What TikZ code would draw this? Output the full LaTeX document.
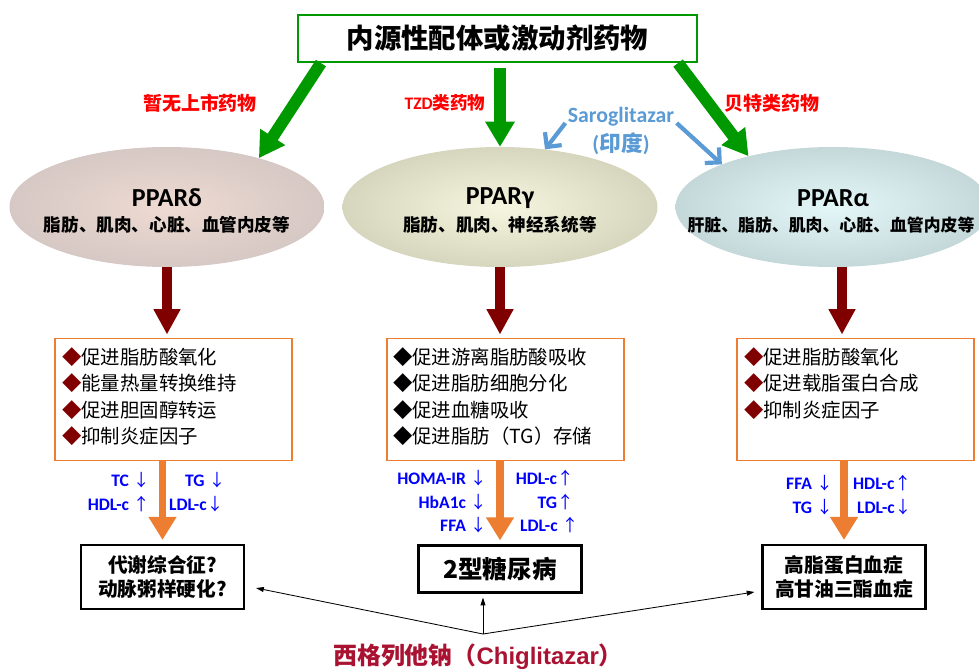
\documentclass[tikz,border=0pt]{standalone}
\usepackage{fontspec}
\setmainfont{Noto Sans CJK SC}
\newfontfamily\cjk{Noto Sans CJK SC}
\newfontfamily\lat{Carlito}
\newfontfamily\arl{Liberation Sans}
\usetikzlibrary{arrows.meta,shapes.geometric}
\definecolor{agreen}{RGB}{0,153,0}
\definecolor{adred}{RGB}{128,0,0}
\definecolor{aorange}{RGB}{237,125,49}
\definecolor{asblue}{RGB}{91,155,213}
\definecolor{acrimson}{RGB}{170,18,50}
\newcommand{\dia}{\textcolor{adred}{◆}}
\newcommand{\da}{{\normalfont\fontsize{24}{28}\selectfont ↓}}
\newcommand{\ua}{{\normalfont\fontsize{24}{28}\selectfont ↑}}
\tikzstyle{topbox}=[draw=agreen, line width=3pt, fill=white, minimum width=199.5mm, minimum height=23.5mm, font=\bfseries\fontsize{39}{44}\selectfont]
\tikzstyle{drug}=[text=red, font=\bfseries\fontsize{27}{30}\selectfont]
\tikzstyle{saro}=[text=asblue, align=center, font=\lat\bfseries\fontsize{31}{40}\selectfont]
\tikzstyle{receptor}=[ellipse, minimum width=157.5mm, minimum height=60mm]
\tikzstyle{pname}=[font=\lat\bfseries\fontsize{37}{40}\selectfont]
\tikzstyle{tissue}=[font=\bfseries\fontsize{25}{28}\selectfont]
\tikzstyle{effect}=[draw=aorange, line width=2.8pt, minimum width=118.5mm, minimum height=61mm]
\tikzstyle{efftext}=[anchor=north west, align=left, inner sep=0pt, font=\fontsize{27.6}{37}\selectfont]
\tikzstyle{marker}=[text=blue, inner sep=0pt, font=\lat\bfseries\fontsize{25}{28}\selectfont]
\tikzstyle{disease}=[draw, line width=3pt, minimum width=81.5mm, align=center, font=\bfseries\fontsize{28}{33}\selectfont]
\tikzstyle{garrow}=[agreen, line width=17pt, -{Triangle[width=40pt,length=36pt]}]
\tikzstyle{rarrow}=[adred, line width=14pt, -{Triangle[width=36pt,length=36pt]}]
\tikzstyle{oarrow}=[aorange, line width=11pt, -{Triangle[width=38pt,length=33pt]}]
\tikzstyle{barrow}=[asblue, line width=6pt, -{Straight Barb[width=30pt,length=15pt]}]
\tikzstyle{link}=[line width=1.2pt, -{Triangle[width=7pt,length=11pt]}]
\tikzstyle{chig}=[text=acrimson, font=\bfseries\fontsize{34}{38}\selectfont]

\begin{document}
\begin{tikzpicture}[x=0.5mm,y=-0.5mm]
\useasboundingbox (0,0) rectangle (979,668);
% ligand box and drug classes
\node[topbox] (ligand) at (497.5,38.5) {内源性配体或激动剂药物};
\node[drug] (none) at (200,103) {暂无上市药物};
\node[drug, font=\bfseries\fontsize{25}{28}\selectfont] (tzd) at (445,103) {{\lat TZD}类药物};
\node[drug] (fib) at (772,103) {贝特类药物};
\node[saro] (saro) at (621,131) {Saroglitazar\\({\cjk 印度})};
% receptors
\node[receptor, inner color={rgb,255:red,238;green,218;blue,210}, outer color={rgb,255:red,214;green,200;blue,196}] (delta) at (167,207) {};
\node[receptor, inner color={rgb,255:red,246;green,246;blue,224}, outer color={rgb,255:red,214;green,214;blue,190}] (gamma) at (500,207) {};
\node[receptor, inner color={rgb,255:red,228;green,247;blue,248}, outer color={rgb,255:red,196;green,216;blue,218}] (alpha) at (833,207) {};
\node[pname] (dname) at (167,198) {PPARδ};
\node[tissue] (dtis) at (167,225) {脂肪、肌肉、心脏、血管内皮等};
\node[pname] (gname) at (500,198) {PPARγ};
\node[tissue] (gtis) at (500,225) {脂肪、肌肉、神经系统等};
\node[pname] (aname) at (833,198) {PPARα};
\node[tissue, font=\bfseries\fontsize{24}{28}\selectfont] (atis) at (831,225) {肝脏、脂肪、肌肉、心脏、血管内皮等};
\draw[garrow] ([xshift=12mm]ligand.south west) -- (delta.28);
\draw[garrow, shorten <=2.5mm] (ligand.south -| gamma.north) -- (gamma.north);
\draw[garrow] ([xshift=-10mm]ligand.south east) -- (alpha.149);
\draw[barrow] ([yshift=4mm]saro.west) -- (gamma.52);
\draw[barrow] ([yshift=4mm]saro.east) -- (alpha.159);
% effects
\node[effect] (effd) at (173.5,399.5) {};
\node[effect] (effg) at (505.5,399.5) {};
\node[effect] (effa) at (855.5,399.5) {};
\node[efftext] (effdt) at (62,348) {\dia 促进脂肪酸氧化\\\dia 能量热量转换维持\\\dia 促进胆固醇转运\\\dia 抑制炎症因子};
\node[efftext] (effgt) at (393,348) {◆促进游离脂肪酸吸收\\◆促进脂肪细胞分化\\◆促进血糖吸收\\◆促进脂肪（TG）存储};
\node[efftext] (effat) at (744,348) {\dia 促进脂肪酸氧化\\\dia 促进载脂蛋白合成\\\dia 抑制炎症因子};
\draw[rarrow, shorten >=1.5mm] (delta.south) -- (delta.south |- effd.north);
\draw[rarrow, shorten >=1.5mm] (gamma.south) -- (gamma.south |- effg.north);
\draw[rarrow, shorten >=1.5mm] ([xshift=4.5mm]alpha.south) -- ([xshift=4.5mm]alpha.south |- effa.north);
% diseases
\node[disease, minimum height=32mm] (mets) at (162.5,577) {代谢综合征?\\动脉粥样硬化?};
\node[disease, minimum height=23.5mm, font=\bfseries\fontsize{35}{40}\selectfont] (t2d) at (500,569) {2型糖尿病};
\node[disease, minimum height=32mm] (hyper) at (844,577) {高脂蛋白血症\\高甘油三酯血症};
\draw[oarrow, shorten >=2mm] (effd.south -| mets.north) -- (mets.north);
\draw[oarrow, shorten >=2mm] (effg.south -| t2d.north) -- (t2d.north);
\draw[oarrow, shorten >=2mm] (effa.south -| hyper.north) -- (hyper.north);
% markers
\node[marker, anchor=east] (tc) at (150,480) {TC \da};
\node[marker, anchor=east] (hdld) at (150,504) {HDL-c \ua};
\node[marker, anchor=west] (tgd) at (185,480) {TG \da};
\node[marker, anchor=west] (ldld) at (169,504) {LDL-c\da};
\node[marker, anchor=east] (homa) at (487,478) {HOMA-IR \da};
\node[marker, anchor=east] (hba) at (487,502) {HbA1c \da};
\node[marker, anchor=east] (ffag) at (487,525) {FFA \da};
\node[marker, anchor=east] (hdlg) at (574,478) {HDL-c\ua};
\node[marker, anchor=east] (tgg) at (574,502) {TG\ua};
\node[marker, anchor=west] (ldlg) at (520,525) {LDL-c \ua};
\node[marker, anchor=east] (ffaa) at (833,483) {FFA \da};
\node[marker, anchor=east] (tga) at (833,507) {TG \da};
\node[marker, anchor=west] (hdla) at (853,483) {HDL-c\ua};
\node[marker, anchor=west] (ldla) at (857,507) {LDL-c\da};
% chiglitazar
\node[chig] (chig) at (478,657) {西格列他钠（{\arl Chiglitazar}）};
\coordinate (hub) at (483,634);
\draw[link] (hub) -- ([xshift=5.5mm,yshift=-5.5mm]mets.east);
\draw[link, shorten >=2mm] (hub) -- (hub |- t2d.south);
\draw[link] (hub) -- ([xshift=-3.5mm,yshift=-7.5mm]hyper.west);
\end{tikzpicture}
\end{document}
